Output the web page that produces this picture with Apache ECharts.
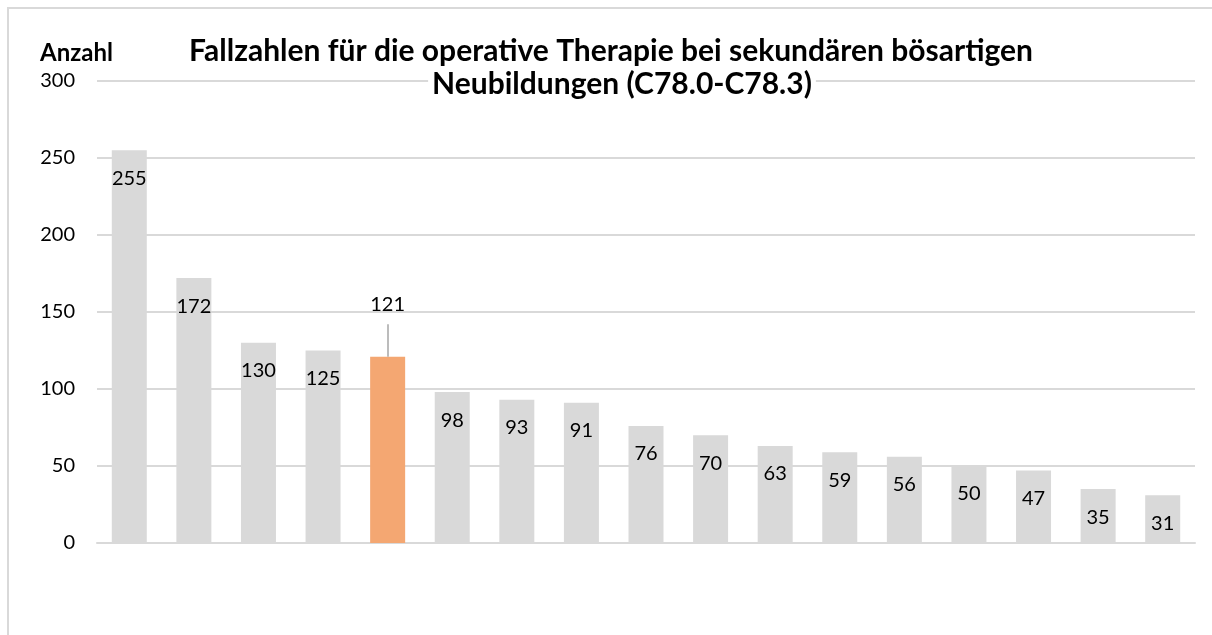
<!DOCTYPE html>
<html>
<head>
<meta charset="utf-8">
<script src="https://cdn.jsdelivr.net/npm/echarts@6/dist/echarts.min.js"></script>
<style>
  html, body { margin: 0; padding: 0; background: #fff; overflow: hidden; }
  #chart { width: 1212px; height: 635px; }
</style>
</head>
<body>
<div id="chart"></div>
<script>
// Rangfolge der Kliniken (keine Beschriftung auf der x-Achse)
var categories = ['1', '2', '3', '4', '5', '6', '7', '8', '9', '10', '11', '12', '13', '14', '15', '16', '17'];
var fallzahlen = [255, 172, 130, 125, 121, 98, 93, 91, 76, 70, 63, 59, 56, 50, 47, 35, 31];
var highlightIndex = 4;
var yTicks = [0, 50, 100, 150, 200, 250, 300];

var barGray = '#d9d9d9';
var barOrange = '#f4a772';
var fontFam = 'Lato, "Liberation Sans", sans-serif';

var barData = [];
for (var i = 0; i < fallzahlen.length; i++) {
    if (i === highlightIndex) {
        barData.push({
            value: fallzahlen[i],
            itemStyle: { color: barOrange },
            label: { position: 'top', distance: 42 }
        });
    } else {
        barData.push(fallzahlen[i]);
    }
}

// Hinweislinie vom hervorgehobenen Balken zur Beschriftung
var leader = [
    { coord: [categories[highlightIndex], fallzahlen[highlightIndex]] },
    { coord: [categories[highlightIndex], fallzahlen[highlightIndex] + 21] }
];

var chart = echarts.init(document.getElementById('chart'));
chart.setOption({
    animation: false,
    backgroundColor: '#fff',
    title: [{
        text: 'Fallzahlen für die operative Therapie bei sekundären bösartigen',
        left: 606, top: 31, textAlign: 'center',
        textStyle: { fontFamily: fontFam, fontWeight: 'bold', fontSize: 30, color: '#000' }
    }, {
        text: 'Neubildungen (C78.0-C78.3)',
        left: 618, top: 67, textAlign: 'center',
        backgroundColor: '#fff', padding: [2, 4],
        textStyle: { fontFamily: fontFam, fontWeight: 'bold', fontSize: 30, color: '#000' }
    }, {
        text: 'Anzahl',
        left: 35, top: 36,
        textStyle: { fontFamily: fontFam, fontWeight: 'bold', fontSize: 24, color: '#000' }
    }],
    // Diagrammrahmen: nur obere und linke Kante liegen im Bild
    graphic: [{
        type: 'polyline',
        shape: { points: [[8, 640], [8, 8], [1212, 8]] },
        style: { fill: null, stroke: '#d9d9d9', lineWidth: 2 },
        silent: true
    }],
    grid: { left: 97, right: 17, top: 81, bottom: 92, containLabel: false },
    xAxis: {
        type: 'category',
        data: categories,
        axisLine: { show: true, lineStyle: { color: '#d9d9d9', width: 2 } },
        axisTick: { show: false },
        axisLabel: { show: false }
    },
    yAxis: {
        type: 'value',
        min: yTicks[0],
        max: yTicks[yTicks.length - 1],
        interval: 50,
        axisLine: { show: false },
        axisTick: { show: false },
        splitLine: { lineStyle: { color: '#d9d9d9', width: 2 } },
        axisLabel: { fontFamily: fontFam, fontSize: 20, color: '#000', margin: 22 }
    },
    series: [{
        type: 'bar',
        data: barData,
        barWidth: 35,
        itemStyle: { color: barGray },
        label: {
            show: true,
            position: 'insideTop',
            distance: 18,
            fontFamily: fontFam,
            fontSize: 20,
            color: '#000'
        },
        markLine: {
            silent: true,
            symbol: 'none',
            label: { show: false },
            lineStyle: { color: '#a6a6a6', width: 1.5, type: 'solid' },
            data: [leader]
        }
    }]
});
</script>
</body>
</html>
